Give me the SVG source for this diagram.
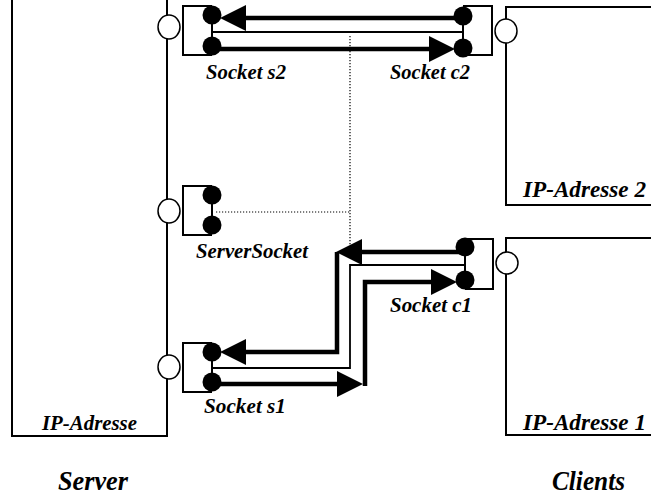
<svg xmlns="http://www.w3.org/2000/svg" width="651" height="495" viewBox="0 0 651 495">
<style>
.box{fill:#fff;stroke:#000;stroke-width:2}
.sock{fill:none;stroke:#000;stroke-width:2}
.dot{fill:#000}
.port{fill:#fff;stroke:#000;stroke-width:1.5}
.thick{fill:none;stroke:#000;stroke-width:4.5}
.thin{fill:none;stroke:#000;stroke-width:1.8}
.dotted{fill:none;stroke:#000;stroke-width:1.2;stroke-dasharray:1.2 1.8}
text{font-family:"Liberation Serif","Times New Roman",serif;font-weight:bold;font-style:italic;fill:#000}
.lbl{font-size:22px}
.lbl2{font-size:23px}
.big{font-size:28px}
</style>
<defs>
<marker id="ah" markerUnits="userSpaceOnUse" markerWidth="27" markerHeight="26" viewBox="0 0 27 26" refX="16" refY="13" orient="auto">
<path d="M0,0 L26,13 L0,26 Z" fill="#000"/>
</marker>
</defs>
<rect width="651" height="495" fill="#fff"/>
<g id="server">
<rect class="box" x="12" y="-2" width="155" height="438"/>
<text class="lbl" x="42" y="430" textLength="95" lengthAdjust="spacingAndGlyphs">IP-Adresse</text>
<text class="big" x="58" y="490" textLength="70" lengthAdjust="spacingAndGlyphs">Server</text>
</g>
<g id="client2">
<rect class="box" x="506" y="7" width="160" height="198"/>
<text class="lbl2" x="523" y="197" textLength="123" lengthAdjust="spacingAndGlyphs">IP-Adresse 2</text>
</g>
<g id="client1">
<rect class="box" x="506" y="238" width="160" height="197"/>
<text class="lbl2" x="523" y="430" textLength="123" lengthAdjust="spacingAndGlyphs">IP-Adresse 1</text>
<text class="big" x="552" y="490" textLength="73" lengthAdjust="spacingAndGlyphs">Clients</text>
</g>
<g id="socket-s2">
<ellipse class="port" cx="169" cy="27" rx="11" ry="12"/>
<path class="sock" d="M212,6 H183 V55 H212 M212,15 V46"/>
<circle class="dot" cx="212" cy="15" r="9.5"/>
<circle class="dot" cx="212" cy="46" r="9.5"/>
<text class="lbl" x="206" y="79" textLength="80" lengthAdjust="spacingAndGlyphs">Socket s2</text>
</g>
<g id="server-socket">
<ellipse class="port" cx="169" cy="211" rx="11" ry="12"/>
<path class="sock" d="M212,186 H183 V235 H212 M212,195 V225"/>
<circle class="dot" cx="212" cy="195" r="9.5"/>
<circle class="dot" cx="212" cy="225" r="9.5"/>
<text class="lbl" x="196" y="258" textLength="112" lengthAdjust="spacingAndGlyphs">ServerSocket</text>
</g>
<g id="socket-s1">
<ellipse class="port" cx="169" cy="367" rx="11" ry="12"/>
<path class="sock" d="M212,343 H183 V392 H212 M212,352 V382"/>
<circle class="dot" cx="212" cy="352" r="9.5"/>
<circle class="dot" cx="212" cy="382" r="9.5"/>
<text class="lbl" x="204" y="413" textLength="82" lengthAdjust="spacingAndGlyphs">Socket s1</text>
</g>
<g id="socket-c2">
<ellipse class="port" cx="506" cy="31" rx="11" ry="12"/>
<path class="sock" d="M463,6 H492 V55 H463 M463,16 V48"/>
<circle class="dot" cx="463" cy="16" r="9.5"/>
<circle class="dot" cx="463" cy="48" r="9.5"/>
<text class="lbl" x="390" y="79" textLength="80" lengthAdjust="spacingAndGlyphs">Socket c2</text>
</g>
<g id="socket-c1">
<ellipse class="port" cx="507" cy="263" rx="11" ry="11"/>
<path class="sock" d="M465,239 H493 V289 H465 M465,247 V280"/>
<circle class="dot" cx="465" cy="247" r="9.5"/>
<circle class="dot" cx="465" cy="280" r="9.5"/>
<text class="lbl" x="390" y="312" textLength="82" lengthAdjust="spacingAndGlyphs">Socket c1</text>
</g>
<g id="connectors">
<path class="thick" d="M463,18 H230" marker-end="url(#ah)"/>
<path class="thin" d="M212,32 H463"/>
<path class="thick" d="M212,49 H445" marker-end="url(#ah)"/>
<path class="dotted" d="M350,36 V248 M216,212 H350"/>
<path class="thick" d="M465,252 H346" marker-end="url(#ah)"/>
<path class="thick" d="M337,252 V352 H230" marker-end="url(#ah)"/>
<path class="thin" d="M212,368 H350 V265 H465"/>
<path class="thick" d="M212,384 H353" marker-end="url(#ah)"/>
<path class="thick" d="M365,386 V282 H447" marker-end="url(#ah)"/>
</g>
</svg>
